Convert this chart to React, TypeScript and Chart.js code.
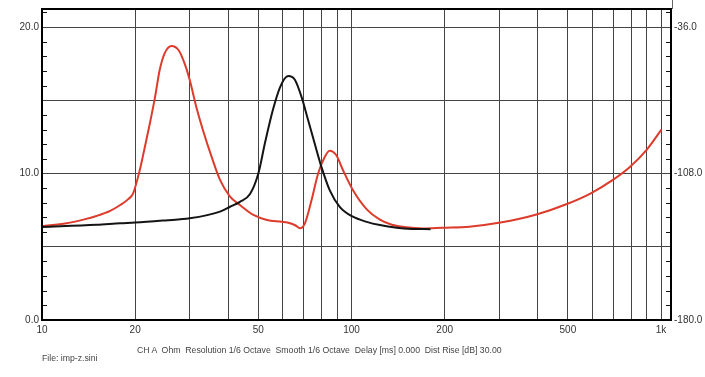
import React, { useEffect, useRef } from "react";
import { Chart, registerables } from "chart.js";
Chart.register(...registerables);

// Red curve (frequency in Hz, impedance in Ohm)
const redFreq = [10, 12, 13.6, 15, 16.6, 17.9, 19.0, 19.7, 20.7, 21.5, 22.3, 23.2, 24.0, 24.9, 26.2, 27.6, 28.9, 30.0, 31.5, 33.1, 35.3, 37.6, 40.5, 43.6, 48.2, 53.3, 59.6, 63.3, 66, 68.2, 70.7, 74.3, 78.0, 82.0, 85.0, 89.2, 93.8, 101, 112, 123.5, 135, 150, 170, 197, 240, 303, 396, 494, 593, 697, 793, 897, 1003];
const redOhm = [6.4, 6.6, 6.85, 7.1, 7.45, 7.85, 8.25, 8.65, 10.24, 11.83, 13.4, 15.25, 17.06, 18.2, 18.7, 18.43, 17.5, 16.4, 14.56, 12.97, 11.15, 9.56, 8.42, 7.85, 7.17, 6.83, 6.7, 6.6, 6.45, 6.26, 6.6, 8.19, 10.0, 11.15, 11.56, 11.26, 10.24, 8.87, 7.55, 6.85, 6.5, 6.33, 6.25, 6.3, 6.37, 6.65, 7.2, 7.9, 8.65, 9.55, 10.45, 11.6, 13.0];

// Black curve
const blackFreq = [10, 15, 17.9, 20, 25, 30, 37.6, 40.5, 43.6, 47, 50, 52.5, 55.7, 58.8, 62.4, 65.6, 68.9, 72.4, 76.0, 79.9, 85, 91.6, 101, 112, 123.5, 140, 157, 180];
const blackOhm = [6.35, 6.5, 6.6, 6.65, 6.8, 6.94, 7.4, 7.73, 8.07, 8.6, 10.0, 12.06, 14.33, 15.9, 16.65, 16.4, 15.25, 13.65, 12.06, 10.47, 8.87, 7.73, 7.05, 6.7, 6.48, 6.3, 6.22, 6.2];

const xGridValues = [10, 20, 30, 40, 50, 60, 70, 80, 90, 100, 200, 300, 400, 500, 600, 700, 800, 900, 1000];
const xLabelValues = [10, 20, 50, 100, 200, 500, 1000];
const xLabelTexts = ["10", "20", "50", "100", "200", "500", "1k"];
const yGridValues = [0, 5, 10, 15, 20];
const yLabelValues = [0, 10, 20];
const yRightValues = [-180, -108, -36];

const X_MIN = 10;
const X_MAX = 1077;
const Y_MAX = 21.23;
const R_MIN = -180;
const R_MAX = R_MIN + Y_MAX * 7.2;

const FONT = "Liberation Sans, Arial, sans-serif";

const framePlugin = {
  id: "frame",
  afterDatasetsDraw(chart: any) {
    const { ctx, chartArea } = chart;
    const { left, right, top, bottom } = chartArea;
    const y = chart.scales.y;
    ctx.save();
    ctx.strokeStyle = "#111";
    ctx.lineWidth = 1;
    for (let v = 1; v <= 21; v++) {
      if (v % 5 === 0) continue;
      const py = Math.round(y.getPixelForValue(v)) + 0.5;
      ctx.beginPath();
      ctx.moveTo(left, py);
      ctx.lineTo(left + 5, py);
      ctx.moveTo(right, py);
      ctx.lineTo(right - 5, py);
      ctx.stroke();
    }
    ctx.lineWidth = 2;
    ctx.strokeStyle = "#000";
    ctx.strokeRect(left, top, right - left, bottom - top);
    ctx.lineWidth = 1;
    ctx.strokeStyle = "#666";
    ctx.beginPath();
    ctx.moveTo(right + 1.5, 0);
    ctx.lineTo(right + 1.5, top);
    ctx.stroke();
    ctx.restore();
  },
};

export default function App() {
  const ref = useRef<HTMLCanvasElement>(null);
  useEffect(() => {
    if (!ref.current) return;
    const chart = new Chart(ref.current, {
      type: "line",
      data: {
        datasets: [
          {
            label: "black",
            data: blackFreq.map((f, i) => ({ x: f, y: blackOhm[i] })),
            borderColor: "#141414",
            borderWidth: 2,
            pointRadius: 0,
            cubicInterpolationMode: "monotone",
            yAxisID: "y",
          },
          {
            label: "red",
            data: redFreq.map((f, i) => ({ x: f, y: redOhm[i] })),
            borderColor: "#dd3b2c",
            borderWidth: 2,
            pointRadius: 0,
            cubicInterpolationMode: "monotone",
            yAxisID: "y",
          },
        ],
      },
      options: {
        responsive: false,
        animation: false,
        layout: { padding: { top: 9, left: 0, right: 0, bottom: 0 } },
        plugins: { legend: { display: false }, tooltip: { enabled: false } },
        scales: {
          x: {
            type: "logarithmic",
            min: X_MIN,
            max: X_MAX,
            afterBuildTicks: (s: any) => {
              s.ticks = xGridValues.map((v) => ({ value: v }));
            },
            afterFit: (s: any) => {
              s.height = 57;
            },
            grid: { color: "#444", lineWidth: 1, drawTicks: false },
            border: { display: false },
            ticks: {
              autoSkip: false,
              maxRotation: 0,
              padding: 4,
              color: "#333",
              font: { family: FONT, size: 10 },
              callback: (value: any) => {
                const i = xLabelValues.indexOf(Number(value));
                return i >= 0 ? xLabelTexts[i] : "";
              },
            },
          },
          y: {
            position: "left",
            min: 0,
            max: Y_MAX,
            afterBuildTicks: (s: any) => {
              s.ticks = yGridValues.map((v) => ({ value: v }));
            },
            afterFit: (s: any) => {
              s.width = 42;
            },
            grid: { color: "#444", lineWidth: 1, drawTicks: false },
            border: { display: false },
            ticks: {
              padding: 3,
              color: "#333",
              font: { family: FONT, size: 10 },
              callback: (value: any) =>
                yLabelValues.includes(Number(value)) ? Number(value).toFixed(1) : "",
            },
          },
          y2: {
            position: "right",
            min: R_MIN,
            max: R_MAX,
            afterBuildTicks: (s: any) => {
              s.ticks = yRightValues.map((v) => ({ value: v }));
            },
            afterFit: (s: any) => {
              s.width = 34;
            },
            grid: { display: false, drawTicks: false },
            border: { display: false },
            ticks: {
              padding: 3,
              color: "#333",
              font: { family: FONT, size: 10 },
              callback: (value: any) => Number(value).toFixed(1),
            },
          },
        },
      },
      plugins: [framePlugin],
    } as any);
    return () => chart.destroy();
  }, []);

  const textStyle: React.CSSProperties = {
    position: "absolute",
    fontFamily: FONT,
    fontSize: 8.7,
    color: "#444",
    whiteSpace: "pre",
    lineHeight: "10px",
  };

  return (
    <div style={{ position: "absolute", left: 0, top: 0, width: 705, height: 377, background: "#fff" }}>
      <canvas ref={ref} width={705} height={377} style={{ display: "block" }} />
      <div style={{ ...textStyle, left: 137, top: 345 }}>
        {"CH A  Ohm  Resolution 1/6 Octave  Smooth 1/6 Octave  Delay [ms] 0.000  Dist Rise [dB] 30.00"}
      </div>
      <div style={{ ...textStyle, left: 42, top: 353 }}>{"File: imp-z.sini"}</div>
    </div>
  );
}
